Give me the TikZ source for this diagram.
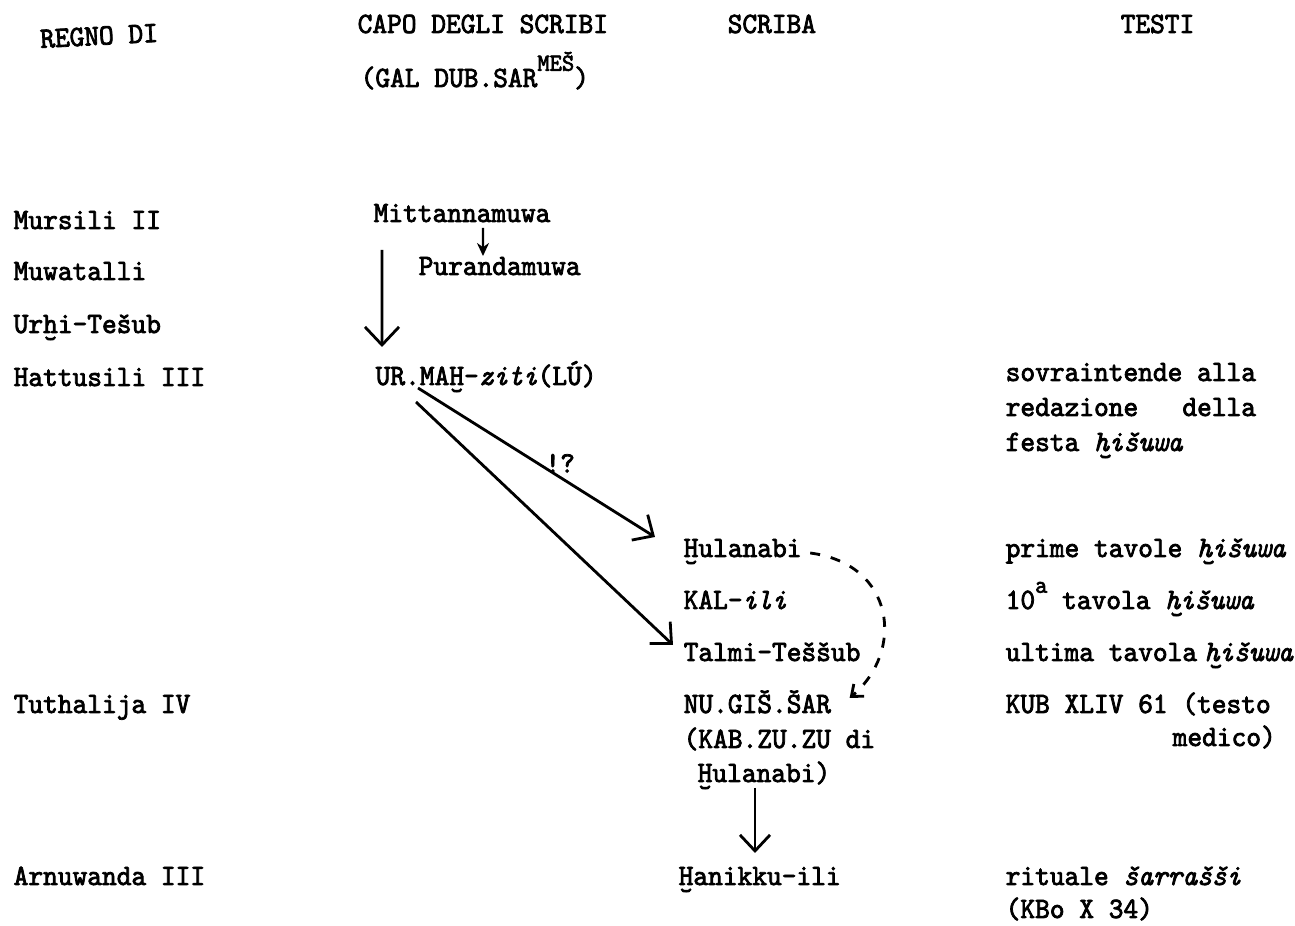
\documentclass[tikz,border=0pt]{standalone}
\usepackage{fontspec}
\setmonofont{lmmono10}[Extension=.otf, UprightFont=*-regular, ItalicFont=*-italic, FakeBold=2.6, FakeStretch=0.95]
\usepackage{tikz}
\usetikzlibrary{arrows.meta,positioning}

\newcommand\tw{\ttfamily\fontsize{8.4pt}{10pt}\selectfont}
\newcommand\hsup[1]{\raisebox{0.55em}{\fontsize{7pt}{7pt}\selectfont #1}}
\newcommand\hbr[1]{\ooalign{#1\cr\hidewidth\raisebox{-0.74em}{\char"02D8}\hidewidth\cr}}

\begin{document}
\begin{tikzpicture}[x=1cm,y=1cm,
    txt/.style={inner sep=0pt, anchor=base west, font=\tw},
    arr/.style={-{Straight Barb[length=1.6mm,width=3mm]}, line width=0.8pt},
    bigarr/.style={-{Straight Barb[length=1.8mm,width=3.4mm]}, line width=0.8pt},
    smallarr/.style={-{Stealth[length=1.3mm,width=1.2mm]}, line width=0.6pt},
    dasharr/.style={-{Straight Barb[length=1mm,width=1.6mm]}, line width=0.8pt, dash pattern=on 1mm off 1.1mm}]
    \useasboundingbox (0,0) rectangle (12.95,9.26);

    % Headers
    \node[txt, rotate=3] (regno) at (0.40,8.78) {REGNO DI};
    \node[txt] (capo) at (3.57,8.93) {CAPO DEGLI SCRIBI};
    \node[txt] (gal) at (3.60,8.39) {(GAL DUB.SAR\hsup{MEŠ})};
    \node[txt] (scriba) at (7.27,8.93) {SCRIBA};
    \node[txt] (testi) at (11.20,8.93) {TESTI};

    % Kings
    \node[txt] (murs) at (0.13,6.97) {Mursili II};
    \node[txt] (muwa) at (0.13,6.46) {Muwatalli};
    \node[txt] (urhi) at (0.13,5.93) {Ur\hbr{h}i-Tešub};
    \node[txt] (hatt) at (0.13,5.40) {Hattusili III};
    \node[txt] (tuth) at (0.13,2.13) {Tuthalija IV};
    \node[txt] (arnu) at (0.13,0.41) {Arnuwanda III};

    % Chief scribes
    \node[txt] (mitt) at (3.73,7.04) {Mittannamuwa};
    \node[txt] (puran) at (4.18,6.51) {Purandamuwa};
    \node[txt] (urmah) at (3.75,5.41) {UR.MA\hbr{H}-\textit{ziti}(LÚ)};

    % Scribes
    \node[txt] (hul) at (6.83,3.69) {\hbr{H}ulanabi};
    \node[txt] (kal) at (6.83,3.17) {KAL-\textit{ili}};
    \node[txt] (talmi) at (6.83,2.65) {Talmi-Teššub};
    \node[txt] (nugis) at (6.83,2.13) {NU.GIŠ.ŠAR};
    \node[txt] (kab) at (6.83,1.78) {(KAB.ZU.ZU di};
    \node[txt] (hultwo) at (6.97,1.44) {\hbr{H}ulanabi)};
    \node[txt] (hanik) at (6.78,0.41) {\hbr{H}anikku-ili};

    % Texts
    \node[txt] (sovr) at (10.05,5.45) {sovraintende alla};
    \node[txt] (redaz) at (10.05,5.10) {redazione\ \ \ della};
    \node[txt] (festa) at (10.05,4.75) {festa \textit{\hbr{h}išuwa}};
    \node[txt] (prime) at (10.05,3.69) {prime tavole \textit{\hbr{h}išuwa}};
    \node[txt] (tenth) at (10.05,3.17) {10\hsup{a} tavola \textit{\hbr{h}išuwa}};
    \node[txt] (ultima) at (10.05,2.65) {ultima tavola\hspace{0.25em}\textit{\hbr{h}išuwa}};
    \node[txt] (kub) at (10.05,2.13) {KUB XLIV 61 (testo};
    \node[txt] (medico) at (11.72,1.80) {medico)};
    \node[txt] (ritual) at (10.05,0.41) {rituale \textit{šarrašši}};
    \node[txt] (kbo) at (10.05,0.08) {(KBo X 34)};

    % Arrows
    \draw[smallarr] ([shift={(1.10,-0.06)}]mitt.base west) -- ([shift={(0.65,0.19)}]puran.base west);
    \draw[bigarr] ([shift={(0.09,-0.28)}]mitt.base west) -- ([shift={(0.07,0.38)}]urmah.base west);
    \draw[arr] ([shift={(0.43,-0.03)}]urmah.base west) -- node[pos=0.6, anchor=south, inner sep=1pt, font=\tw] (doubt) {!?} ([shift={(-0.28,0.20)}]hul.base west);
    \draw[arr] ([shift={(0.41,-0.17)}]urmah.base west) -- ([shift={(-0.10,0.16)}]talmi.base west);
    \draw[dasharr] ([shift={(0.08,0.04)}]hul.base east) .. controls (8.95,3.62) and (9.05,2.75) .. ([shift={(0.18,0.15)}]nugis.base east);
    \draw[arr] ([shift={(0.58,-0.06)}]hultwo.base west) -- ([shift={(0.77,0.32)}]hanik.base west);
\end{tikzpicture}
\end{document}
